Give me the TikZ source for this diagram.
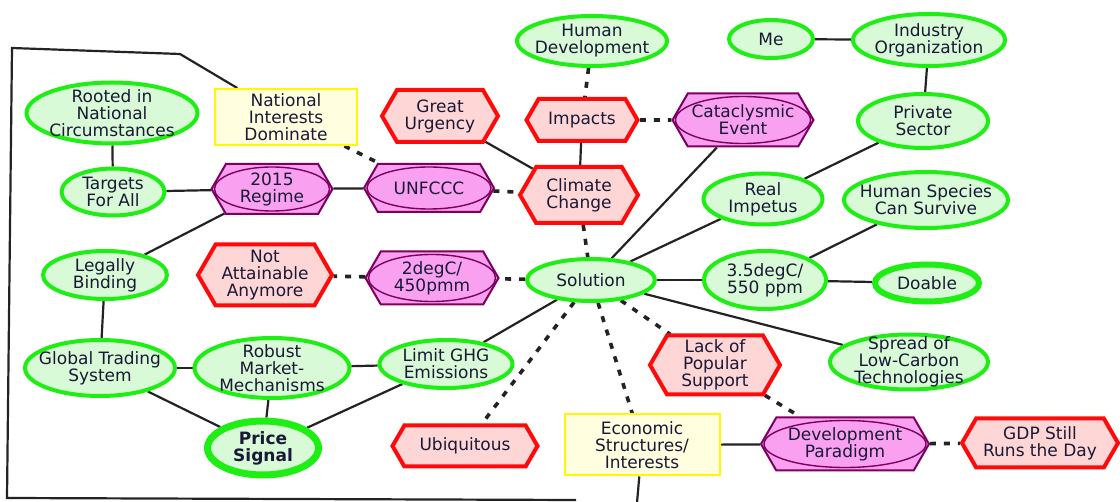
\documentclass[tikz,border=0pt]{standalone}
\usepackage{fontspec}
\setmainfont{DejaVu Sans}
\usepackage{tikz}
\usetikzlibrary{calc,shapes.geometric,shapes.symbols,backgrounds}

\definecolor{gfill}{RGB}{216,250,214}
\definecolor{gline}{RGB}{30,238,20}
\definecolor{rfill}{RGB}{255,214,214}
\definecolor{rline}{RGB}{255,10,10}
\definecolor{pfill}{RGB}{250,160,240}
\definecolor{pline}{RGB}{125,0,95}
\definecolor{yfill}{RGB}{255,255,224}
\definecolor{yline}{RGB}{255,248,0}
\definecolor{ink}{RGB}{25,25,55}
\definecolor{linkc}{RGB}{35,35,35}

\begin{document}
\begin{tikzpicture}[x=1pt,y=-1pt]
  \tikzstyle{base} = [font=\fontsize{17}{17}\selectfont, text=ink, align=center, inner sep=0pt]
  % ellipses keep their set size, the text may run over the rim
  \tikzstyle{gnode} = [base, ellipse, draw=gline, fill=gfill, line width=4pt, inner xsep=-16pt, inner ysep=-10pt]
  \tikzstyle{rnode} = [base, signal, signal to=west and east, signal pointer angle=120, draw=rline, fill=rfill, line width=4pt]
  \tikzstyle{pnode} = [base, signal, signal to=west and east, signal pointer angle=120, draw=pline, fill=pfill, line width=2pt,
    path picture={\draw[pline, line width=1.4pt] let \p1 = ($(path picture bounding box.north east)-(path picture bounding box.center)$) in
      (path picture bounding box.center) ellipse [x radius={\x1-3pt}, y radius={\y1-3pt}];}]
  \tikzstyle{ynode} = [base, rectangle, draw=yline, fill=yfill, line width=2pt]
  \tikzstyle{solidlink} = [draw=linkc, line width=2.2pt]
  \tikzstyle{dashlink} = [draw=linkc, line width=3.6pt, dash pattern=on 6pt off 8pt]

  \useasboundingbox (0,0) rectangle (1120,502);

  % top row
  \node[gnode, minimum width=150pt, minimum height=50pt] (humdev) at (592,41) {Human\\Development};
  \node[gnode, minimum width=84pt, minimum height=38pt] (me) at (771,39) {Me};
  \node[gnode, minimum width=152pt, minimum height=52pt] (indorg) at (929,40) {Industry\\Organization};

  \node[ynode, minimum width=142pt, minimum height=56pt] (natint) at (286,117) {National\\Interests\\Dominate};
  \node[gnode, minimum width=171pt, minimum height=61pt] (rooted) at (112,113) {Rooted in\\National\\Circumstances};
  \node[rnode, minimum width=116pt, minimum height=52pt] (urgency) at (440,116) {Great\\Urgency};
  \node[rnode, minimum width=111pt, minimum height=42pt] (impacts) at (582,120) {Impacts};
  \node[pnode, minimum width=141pt, minimum height=53pt] (catacl) at (743,120) {Cataclysmic\\Event};
  \node[gnode, minimum width=130pt, minimum height=54pt] (private) at (923,121) {Private\\Sector};

  % second row
  \node[gnode, minimum width=103pt, minimum height=47pt] (targets) at (113,192) {Targets\\For All};
  \node[pnode, minimum width=121pt, minimum height=50pt] (regime) at (272,189) {2015\\Regime};
  \node[pnode, minimum width=130pt, minimum height=48pt] (unfccc) at (429,188) {UNFCCC};
  \node[rnode, minimum width=118pt, minimum height=56pt] (climate) at (579,195) {Climate\\Change};
  \node[gnode, minimum width=119pt, minimum height=51pt] (impetus) at (763,199) {Real\\Impetus};
  \node[gnode, minimum width=164pt, minimum height=56pt] (species) at (926,200) {Human Species\\Can Survive};

  % middle row
  \node[gnode, minimum width=124pt, minimum height=48pt] (legally) at (105,275) {Legally\\Binding};
  \node[rnode, minimum width=134pt, minimum height=61pt] (notatt) at (265,275) {Not\\Attainable\\Anymore};
  \node[pnode, minimum width=133pt, minimum height=53pt] (twodeg) at (432,278) {2degC/\\450pmm};
  \node[gnode, minimum width=128pt, minimum height=42pt] (solution) at (591,280) {Solution};
  \node[gnode, minimum width=122pt, minimum height=58pt] (threedeg) at (765,280) {3.5degC/\\550 ppm};
  \node[gnode, line width=6pt, minimum width=104pt, minimum height=37pt] (doable) at (927,283) {Doable};

  % lower rows
  \node[gnode, minimum width=150pt, minimum height=56pt] (globtrade) at (100,368) {Global Trading\\System};
  \node[gnode, minimum width=155pt, minimum height=60pt] (robust) at (272,368) {Robust\\Market-\\Mechanisms};
  \node[gnode, minimum width=133pt, minimum height=48pt] (limitghg) at (446,364) {Limit GHG\\Emissions};
  \node[rnode, minimum width=130pt, minimum height=59pt] (lackpop) at (715,365) {Lack of\\Popular\\Support};
  \node[gnode, minimum width=158pt, minimum height=55pt] (spread) at (909,362) {Spread of\\Low-Carbon\\Technologies};

  \node[gnode, line width=7pt, font=\fontsize{17}{17}\selectfont\bfseries, minimum width=111pt, minimum height=54pt] (price) at (263,448) {Price\\Signal};
  \node[rnode, minimum width=145pt, minimum height=41pt] (ubiq) at (465,446) {Ubiquitous};
  \node[ynode, minimum width=155pt, minimum height=61pt] (econ) at (642,445) {Economic\\Structures/\\Interests};
  \node[pnode, minimum width=168pt, minimum height=53pt] (devpar) at (845,444) {Development\\Paradigm};
  \node[rnode, minimum width=156pt, minimum height=49pt] (gdp) at (1040,443) {GDP Still\\Runs the Day};

  % frame and loose ends
  \coordinate (fr1) at (180,54);
  \coordinate (fr2) at (12,48);
  \coordinate (fr3) at (7,498);
  \coordinate (fr4) at (576,500);
  \coordinate (econdown) at (637,503);

  \begin{pgfonlayer}{background}
  \path[solidlink]
  (natint) -- (fr1) -- (fr2) -- (fr3) -- (fr4)
  (econ) -- (econdown);

  \path[solidlink]
  (rooted) edge (targets)
  (targets) edge (regime)
  (regime) edge (unfccc)
  (regime) edge (legally)
  (urgency) edge (climate)
  (impacts) edge (climate)
  (catacl) edge (solution)
  (me) edge (indorg)
  (indorg) edge (private)
  (private) edge (impetus)
  (impetus) edge (solution)
  (species) edge (threedeg)
  (solution) edge (threedeg)
  (threedeg) edge (doable)
  (solution) edge (spread)
  (solution) edge (limitghg)
  (legally) edge (globtrade)
  (globtrade) edge (robust)
  (robust) edge (limitghg)
  (globtrade) edge (price)
  (robust) edge (price)
  (limitghg) edge (price)
  (econ) edge (devpar)
  ;

  \path[dashlink]
  (unfccc) edge (climate)
  (natint) edge (unfccc)
  (humdev) edge (impacts)
  (impacts) edge (catacl)
  (climate) edge (solution)
  (solution) edge (lackpop)
  (solution) edge (econ)
  (solution) edge (ubiq)
  (solution) edge (twodeg)
  (twodeg) edge (notatt)
  (lackpop) edge (devpar)
  (devpar) edge (gdp)
  ;
  \end{pgfonlayer}
\end{tikzpicture}
\end{document}
